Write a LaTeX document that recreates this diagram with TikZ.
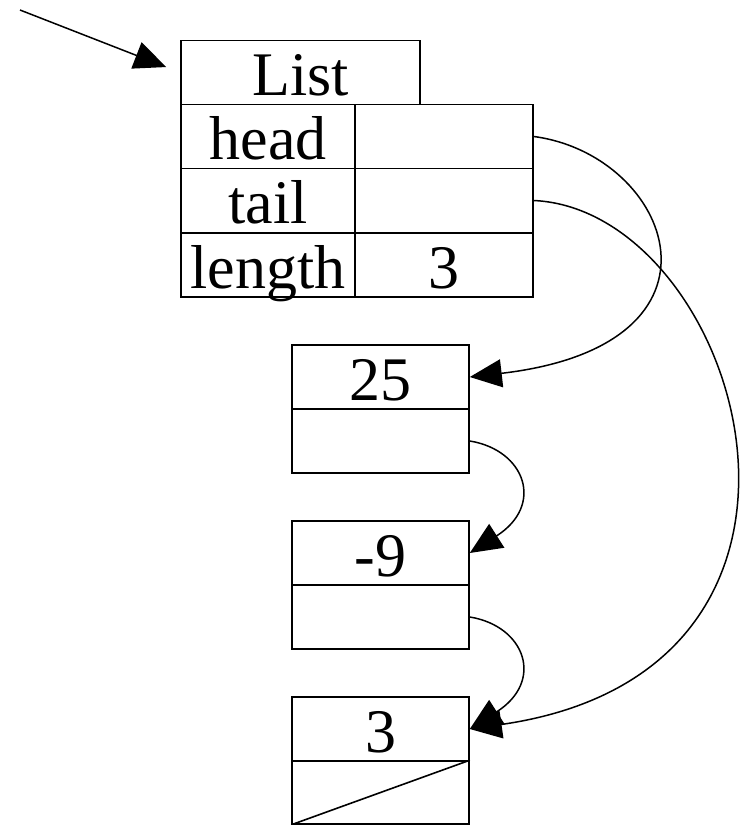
\documentclass[tikz,border=0pt]{standalone}
\usepackage{fontspec}
\setmainfont{Liberation Serif}
\usetikzlibrary{arrows.meta}

\tikzset{
	cell/.style={draw,line width=1.6pt,inner sep=0pt,minimum height=64pt,
		font=\fontsize{62}{62}\selectfont,text height=46pt,text depth=0pt},
	ptr/.style={line width=1.5pt,-{Triangle[length=32pt,width=28pt]}},
}

\begin{document}
\begin{tikzpicture}[x=1pt,y=-1pt]
	\useasboundingbox (0,0) rectangle (740,825);
	% the list header
	\node[cell,minimum width=239pt] (title) at (300.5,72.5) {List};
	\node[cell,minimum width=174pt] (headL) at (268,136.5) {head};
	\node[cell,minimum width=178pt] (headV) at (444,136.5) {};
	\node[cell,minimum width=174pt] (tailL) at (268,200.5) {tail};
	\node[cell,minimum width=178pt] (tailV) at (444,200.5) {};
	\node[cell,minimum width=174pt] (lenL) at (268,265) {length};
	\node[cell,minimum width=178pt] (lenV) at (444,265) {3};
	% the three list nodes
	\node[cell,minimum width=177pt] (valA) at (380.5,377) {25};
	\node[cell,minimum width=177pt] (nxtA) at (380.5,441) {};
	\node[cell,minimum width=177pt] (valB) at (380.5,553) {-9};
	\node[cell,minimum width=177pt] (nxtB) at (380.5,617) {};
	\node[cell,minimum width=177pt] (valC) at (380.5,729) {3};
	\node[cell,minimum width=177pt,minimum height=63pt] (nxtC) at (380.5,792.5) {};
	\draw[line width=1.6pt] (nxtC.north east) -- (nxtC.south west);
	% pointers
	\coordinate (start) at (20,10);
	\draw[ptr,shorten >=15pt] (start) -- (title.west);
	\draw[ptr] (headV.east) .. controls (672,155) and (745,345) .. (valA.east);
	\draw[ptr] (tailV.east) .. controls (740,210) and (880,670) .. (valC.east);
	\draw[ptr] (nxtA.east) .. controls (525,450) and (545,505) .. (valB.east);
	\draw[ptr] (nxtB.east) .. controls (525,626) and (545,681) .. (valC.east);
\end{tikzpicture}
\end{document}
